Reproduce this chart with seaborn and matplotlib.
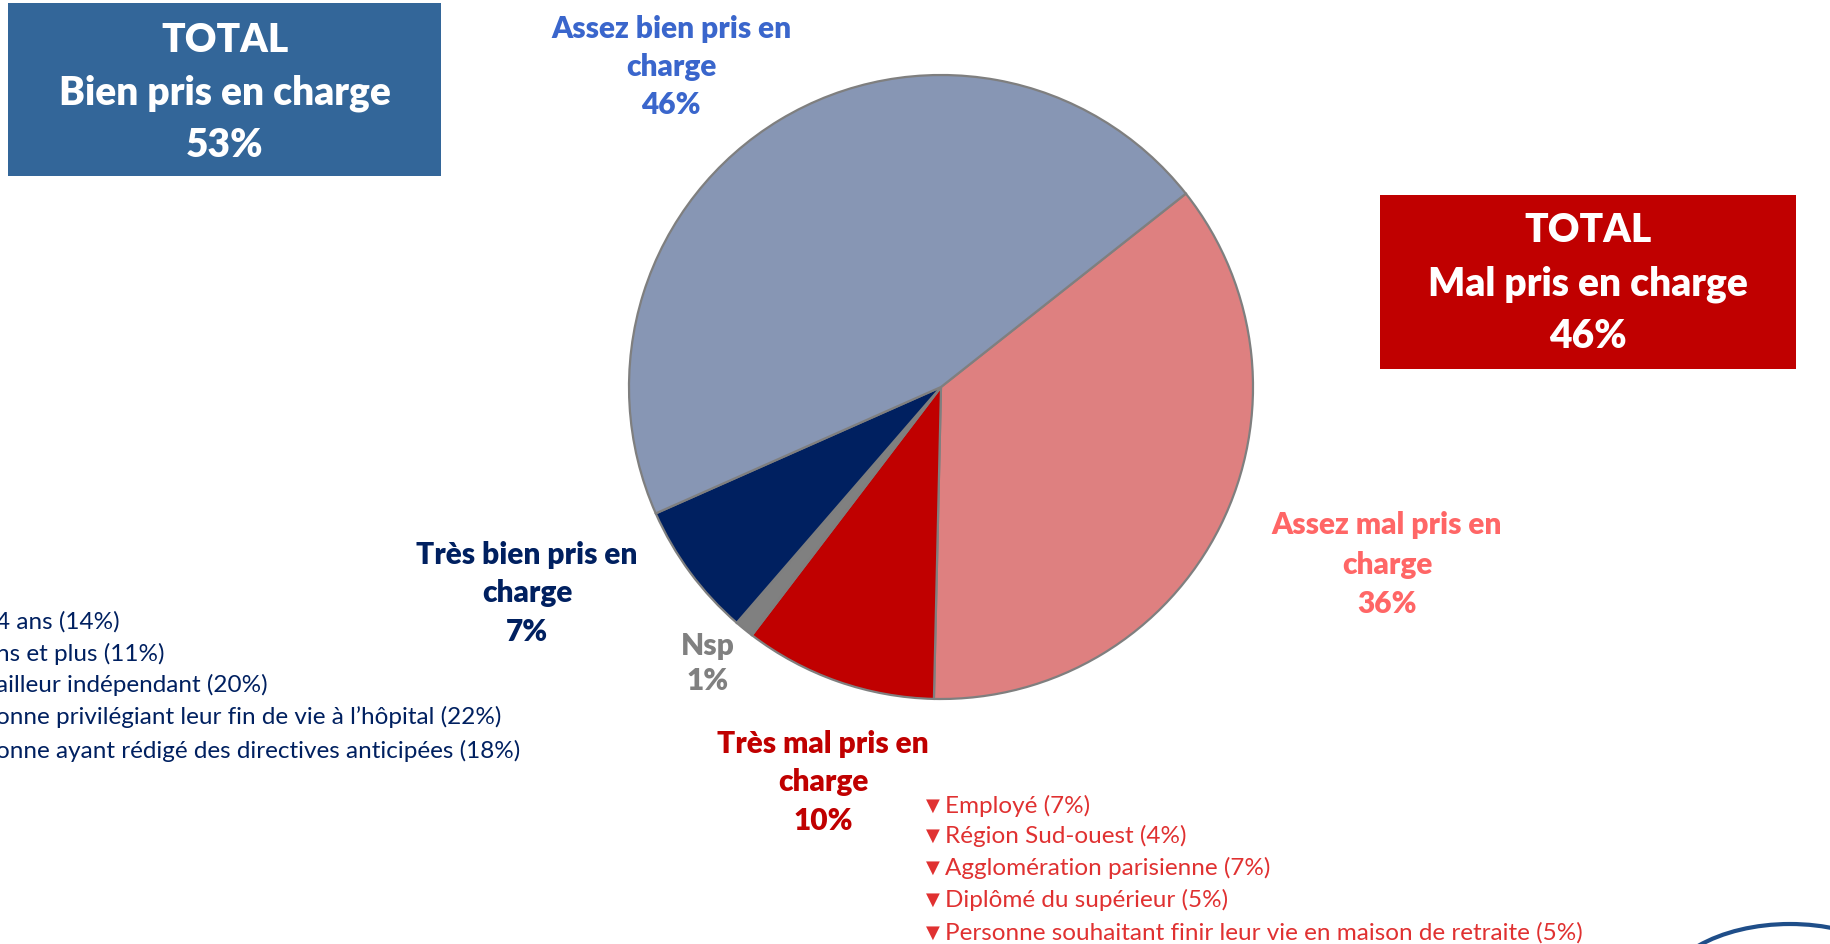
import matplotlib
matplotlib.use("Agg")
import matplotlib.pyplot as plt
from matplotlib.patches import Rectangle, Ellipse
import seaborn as sns

sns.set_theme(style="white")
plt.rcParams["font.family"] = ["Lato", "DejaVu Sans"]

# Survey answers, in clockwise order starting from the upper right
categories = ["Assez mal pris en charge", "Très mal pris en charge", "Nsp",
              "Très bien pris en charge", "Assez bien pris en charge"]
values = [36, 10, 1, 7, 46]
colors = ["#DE8080", "#C00000", "#808080", "#002060", "#8796B4"]
label_colors = ["#FF6666", "#C00000", "#808080", "#002060", "#3A66CC"]
label_lines = [["Assez mal pris en", "charge"],
               ["Très mal pris en", "charge"],
               ["Nsp"],
               ["Très bien pris en", "charge"],
               ["Assez bien pris en", "charge"]]

total_bien = values[3] + values[4]
total_mal = values[0] + values[1]

left_notes = ["4 ans (14%)", "ns et plus (11%)", "ailleur indépendant (20%)",
              "onne privilégiant leur fin de vie à l’hôpital (22%)",
              "onne ayant rédigé des directives anticipées (18%)"]
right_notes = ["Employé (7%)", "Région Sud-ouest (4%)",
               "Agglomération parisienne (7%)", "Diplômé du supérieur (5%)",
               "Personne souhaitant finir leur vie en maison de retraite (5%)"]

W, H = 1831, 945
fig = plt.figure(figsize=(W / 100, H / 100), dpi=100)
ax = fig.add_axes([0, 0, 1, 1])

def Y(y):
    # canvas rows counted from the top
    return H - y

ax.pie(values, colors=colors, startangle=38.3, counterclock=False,
       center=(941, Y(388)), radius=312,
       wedgeprops=dict(edgecolor="#7F7F7F", linewidth=1.6))
ax.set_xlim(0, W)
ax.set_ylim(0, H)
ax.set_aspect("equal")
ax.axis("off")

# slice labels
label_pos = [(1387, [525, 565, 604]),
             (823, [744, 782, 821]),
             (708, [646, 681]),
             (527, [555, 593, 632]),
             (671, [29, 67, 105])]
for lines, val, col, (cx, ys) in zip(label_lines, values, label_colors, label_pos):
    for txt, y in zip(lines + [f"{val}%"], ys):
        ax.text(cx, Y(y), txt, ha="center", va="center", color=col,
                fontsize=21.5, fontweight="heavy")

# summary boxes
ax.add_patch(Rectangle((8, Y(177)), 433, 173, facecolor="#336699", edgecolor="none"))
for txt, y in zip(["TOTAL", "Bien pris en charge", f"{total_bien}%"], [41, 93, 146]):
    ax.text(225, Y(y), txt, ha="center", va="center", color="white",
            fontsize=28, fontweight="heavy")

ax.add_patch(Rectangle((1380, Y(370)), 416, 174, facecolor="#C00000", edgecolor="none"))
for txt, y in zip(["TOTAL", "Mal pris en charge", f"{total_mal}%"], [231, 284, 337]):
    ax.text(1588, Y(y), txt, ha="center", va="center", color="white",
            fontsize=28, fontweight="heavy")

# sub-group notes
for txt, y in zip(left_notes, [622, 654, 685, 717, 751]):
    ax.text(-4, Y(y), txt, ha="left", va="center", color="#002060", fontsize=17.5)

for txt, y in zip(right_notes, [806, 836, 868, 900, 933]):
    ax.text(926, Y(y), "▼", ha="left", va="center", color="#E03131", fontsize=13)
    ax.text(945, Y(y), txt, ha="left", va="center", color="#E03131", fontsize=17.5)

# logo outline in the corner
ax.add_patch(Ellipse((1790, Y(1000)), 260, 150, facecolor="none",
                     edgecolor="#1F4E89", linewidth=3))

fig.savefig("out.png", dpi=100, facecolor="white")
